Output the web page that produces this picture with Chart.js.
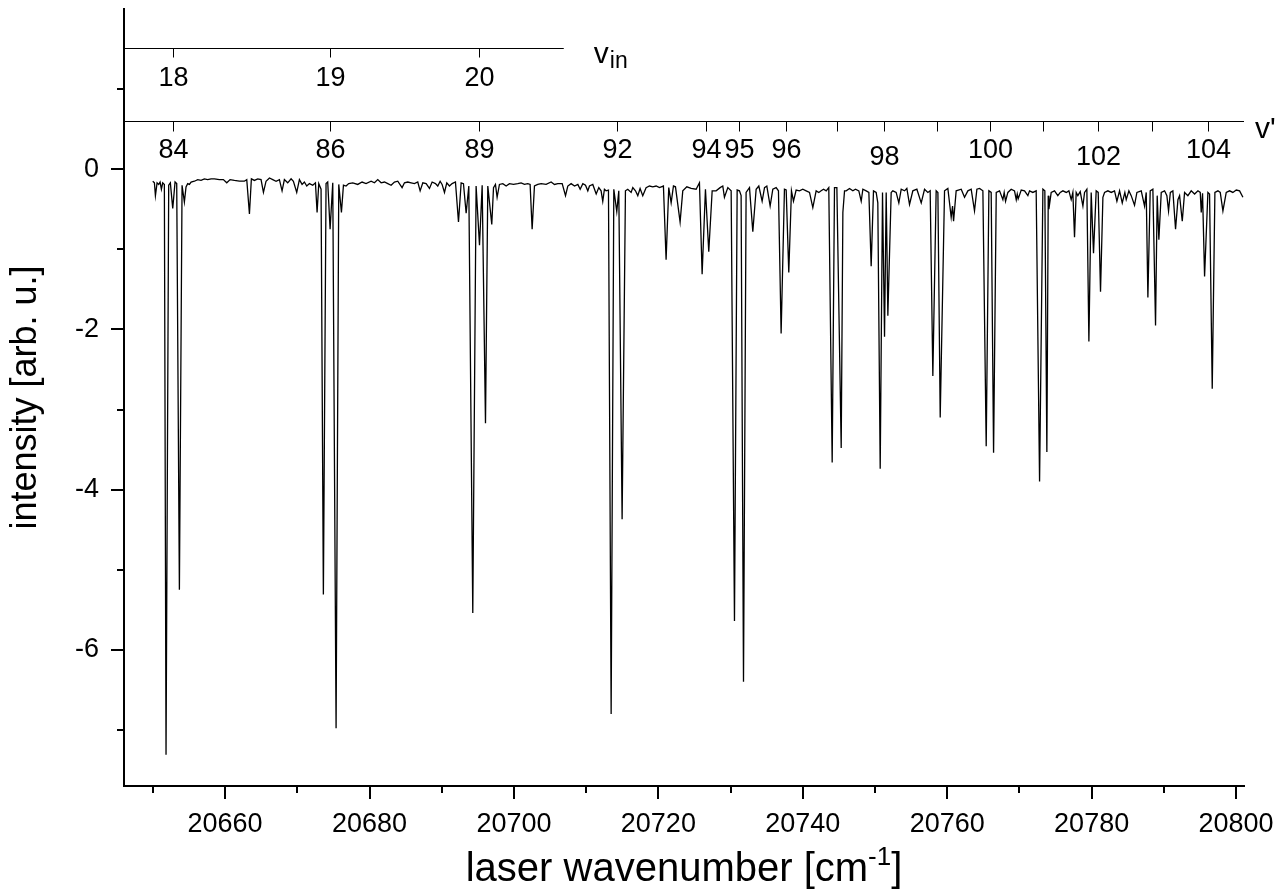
<!DOCTYPE html>
<html>
<head>
<meta charset="utf-8">
<script src="https://cdn.jsdelivr.net/npm/chart.js@4.4.1/dist/chart.umd.min.js"></script>
<style>
  html, body { margin: 0; padding: 0; background: #fff; }
</style>
</head>
<body>
<canvas id="spectrumChart" width="1286" height="890"></canvas>
<script>
// --- data: [laser wavenumber (cm^-1), intensity (arb. u.)] ---
const spectrum = [
  [20649.98,-0.15],[20650.21,-0.17],[20650.35,-0.33],[20650.58,-0.17],[20650.81,-0.19],[20651.00,-0.16],[20651.18,-0.25],[20651.36,-0.17],[20651.59,-0.19],[20651.82,-7.31],
  [20652.19,-0.20],[20652.42,-0.17],[20652.75,-0.49],[20653.07,-0.16],[20653.30,-0.18],[20653.67,-5.25],[20654.04,-0.20],[20654.36,-0.41],[20654.59,-0.22],[20654.82,-0.18],
  [20655.06,-0.19],[20655.29,-0.16],[20655.75,-0.15],[20656.21,-0.13],[20656.67,-0.14],[20657.13,-0.12],[20657.59,-0.13],[20658.06,-0.12],[20658.52,-0.12],[20659.21,-0.13],
  [20659.76,-0.13],[20660.23,-0.17],[20660.69,-0.13],[20661.29,-0.14],[20661.98,-0.15],[20662.67,-0.15],[20663.00,-0.13],[20663.37,-0.56],[20663.64,-0.12],[20664.06,-0.14],
  [20664.52,-0.12],[20664.98,-0.13],[20665.31,-0.29],[20665.67,-0.15],[20666.14,-0.11],[20666.60,-0.13],[20667.06,-0.15],[20667.52,-0.13],[20667.89,-0.27],[20668.21,-0.13],
  [20668.67,-0.17],[20669.14,-0.12],[20669.46,-0.15],[20669.92,-0.29],[20670.29,-0.13],[20670.66,-0.19],[20670.98,-0.16],[20671.31,-0.21],[20671.68,-0.18],[20672.14,-0.20],
  [20672.51,-0.17],[20672.74,-0.54],[20672.97,-0.18],[20673.29,-0.25],[20673.61,-5.31],[20673.98,-0.18],[20674.21,-0.16],[20674.54,-0.75],[20674.91,-0.17],[20675.37,-6.98],
  [20675.74,-0.19],[20676.11,-0.54],[20676.39,-0.20],[20676.75,-0.21],[20677.12,-0.18],[20677.68,-0.17],[20678.37,-0.19],[20678.97,-0.16],[20679.52,-0.18],[20680.22,-0.15],
  [20680.68,-0.17],[20681.14,-0.13],[20681.61,-0.17],[20682.07,-0.16],[20682.53,-0.18],[20682.99,-0.20],[20683.45,-0.16],[20683.91,-0.15],[20684.51,-0.23],[20684.84,-0.17],
  [20685.30,-0.16],[20685.76,-0.17],[20686.22,-0.18],[20686.68,-0.16],[20687.01,-0.27],[20687.38,-0.17],[20687.84,-0.18],[20688.30,-0.24],[20688.67,-0.16],[20689.13,-0.18],
  [20689.45,-0.21],[20689.78,-0.15],[20690.05,-0.19],[20690.38,-0.29],[20690.70,-0.17],[20691.07,-0.21],[20691.44,-0.18],[20691.90,-0.16],[20692.32,-0.66],[20692.69,-0.17],
  [20693.01,-0.18],[20693.38,-0.55],[20693.75,-0.21],[20694.30,-5.54],[20694.76,-0.21],[20695.23,-0.95],[20695.60,-0.20],[20696.06,-3.17],[20696.38,-0.21],[20696.93,-0.69],
  [20697.17,-0.23],[20697.44,-0.19],[20697.67,-0.35],[20697.99,-0.19],[20698.46,-0.18],[20698.92,-0.21],[20699.38,-0.18],[20699.93,-0.19],[20700.53,-0.18],[20700.99,-0.17],
  [20701.46,-0.19],[20701.92,-0.18],[20702.24,-0.19],[20702.52,-0.75],[20702.84,-0.21],[20703.30,-0.19],[20703.77,-0.18],[20704.46,-0.19],[20705.15,-0.16],[20705.61,-0.19],
  [20706.08,-0.18],[20706.68,-0.18],[20707.14,-0.33],[20707.46,-0.21],[20707.92,-0.18],[20708.39,-0.21],[20708.85,-0.19],[20709.17,-0.25],[20709.54,-0.18],[20709.91,-0.20],
  [20710.23,-0.27],[20710.46,-0.21],[20710.92,-0.19],[20711.39,-0.31],[20711.75,-0.23],[20712.07,-0.27],[20712.30,-0.40],[20712.53,-0.25],[20712.76,-0.27],[20713.09,-0.26],
  [20713.46,-6.80],[20713.83,-0.25],[20714.24,-0.53],[20714.52,-0.27],[20714.98,-4.37],[20715.44,-0.27],[20715.76,-0.25],[20716.23,-0.29],[20716.46,-0.23],[20716.83,-0.27],
  [20717.15,-0.33],[20717.47,-0.24],[20717.84,-0.33],[20718.30,-0.23],[20718.77,-0.21],[20719.23,-0.22],[20719.69,-0.21],[20720.15,-0.23],[20720.70,-0.21],[20721.07,-1.13],
  [20721.44,-0.23],[20721.77,-0.42],[20722.09,-0.21],[20722.37,-0.22],[20723.01,-0.66],[20723.38,-0.27],[20723.94,-0.22],[20724.54,-0.24],[20725.23,-0.25],[20725.69,-0.17],
  [20726.06,-1.31],[20726.52,-0.25],[20726.98,-1.03],[20727.45,-0.27],[20728.00,-0.27],[20728.55,-0.23],[20728.92,-0.21],[20729.15,-0.35],[20729.62,-0.23],[20730.08,-0.27],
  [20730.54,-5.64],[20730.91,-0.26],[20731.23,-0.27],[20731.46,-0.33],[20731.79,-6.40],[20732.15,-0.29],[20732.62,-0.23],[20733.08,-0.78],[20733.54,-0.25],[20733.91,-0.21],
  [20734.37,-0.40],[20734.70,-0.23],[20735.02,-0.21],[20735.48,-0.46],[20735.85,-0.25],[20736.31,-0.23],[20736.63,-0.27],[20737.00,-2.05],[20737.46,-0.25],[20737.70,-0.26],
  [20738.06,-1.29],[20738.43,-0.27],[20738.71,-0.40],[20739.08,-0.26],[20739.54,-0.27],[20740.00,-0.25],[20740.47,-0.27],[20740.93,-0.29],[20741.39,-0.48],[20741.85,-0.27],
  [20742.22,-0.29],[20742.54,-0.27],[20742.87,-0.25],[20743.24,-0.27],[20743.60,-0.23],[20744.07,-3.66],[20744.39,-0.23],[20744.72,-0.23],[20745.32,-3.48],[20745.55,-0.54],
  [20745.78,-0.27],[20746.01,-0.27],[20746.47,-0.24],[20746.93,-0.27],[20747.30,-0.25],[20747.76,-0.27],[20748.09,-0.40],[20748.32,-0.25],[20748.78,-0.27],[20749.15,-0.29],
  [20749.47,-1.21],[20749.79,-0.27],[20750.16,-0.29],[20750.39,-0.42],[20750.72,-3.74],[20751.04,-0.29],[20751.32,-2.09],[20751.55,-0.29],[20751.78,-1.83],[20752.24,-0.29],
  [20752.47,-0.27],[20752.93,-0.29],[20753.30,-0.42],[20753.63,-0.25],[20754.09,-0.27],[20754.41,-0.24],[20754.78,-0.44],[20755.24,-0.27],[20755.80,-0.25],[20756.40,-0.42],
  [20756.86,-0.25],[20757.32,-0.29],[20757.64,-0.27],[20758.01,-2.58],[20758.47,-0.27],[20758.71,-0.29],[20759.03,-3.10],[20759.63,-0.27],[20760.09,-0.24],[20760.55,-0.60],
  [20760.74,-0.46],[20760.88,-0.65],[20761.24,-0.27],[20761.94,-0.25],[20762.40,-0.35],[20762.86,-0.27],[20763.32,-0.25],[20763.78,-0.52],[20764.11,-0.25],[20764.48,-0.24],
  [20764.94,-0.27],[20765.40,-3.46],[20765.77,-0.27],[20766.09,-0.29],[20766.42,-3.54],[20766.79,-0.29],[20767.25,-0.27],[20767.71,-0.38],[20767.89,-0.29],[20768.08,-0.40],
  [20768.40,-0.29],[20768.86,-0.25],[20769.32,-0.27],[20769.56,-0.38],[20769.70,-0.31],[20769.83,-0.37],[20770.25,-0.26],[20770.71,-0.27],[20771.17,-0.33],[20771.40,-0.27],
  [20771.86,-0.29],[20772.32,-0.27],[20772.79,-3.90],[20773.25,-0.25],[20773.52,-0.27],[20773.80,-3.53],[20773.99,-0.33],[20774.08,-0.50],[20774.40,-0.29],[20774.86,-0.27],
  [20775.32,-0.33],[20775.65,-0.29],[20776.02,-0.27],[20776.48,-0.29],[20776.85,-0.27],[20777.17,-0.38],[20777.40,-0.29],[20777.63,-0.85],[20777.86,-0.29],[20778.09,-0.33],
  [20778.42,-0.28],[20778.79,-0.46],[20779.02,-0.29],[20779.34,-0.25],[20779.62,-2.15],[20779.94,-0.29],[20780.26,-1.05],[20780.63,-0.27],[20780.91,-0.29],[20781.23,-1.53],
  [20781.56,-0.35],[20781.79,-0.29],[20782.25,-0.27],[20782.71,-0.29],[20783.17,-0.27],[20783.50,-0.40],[20783.87,-0.27],[20784.24,-0.42],[20784.60,-0.29],[20784.79,-0.38],
  [20785.16,-0.27],[20785.48,-0.33],[20785.94,-0.45],[20786.27,-0.29],[20786.87,-0.27],[20787.33,-0.46],[20787.56,-0.29],[20787.79,-1.60],[20788.11,-0.27],[20788.48,-0.25],
  [20788.85,-1.95],[20789.08,-0.33],[20789.31,-0.88],[20789.64,-0.29],[20790.10,-0.27],[20790.42,-0.33],[20790.65,-0.52],[20790.90,-0.29],[20791.25,-0.27],[20791.62,-0.75],
  [20791.95,-0.38],[20792.18,-0.33],[20792.55,-0.65],[20792.87,-0.29],[20793.33,-0.33],[20793.79,-0.27],[20794.26,-0.31],[20794.72,-0.27],[20795.04,-0.29],[20795.18,-0.54],
  [20795.36,-0.30],[20795.64,-1.34],[20796.10,-0.29],[20796.33,-0.31],[20796.70,-2.74],[20797.07,-0.29],[20797.49,-0.27],[20797.81,-0.29],[20798.18,-0.52],[20798.64,-0.29],
  [20799.10,-0.27],[20799.56,-0.29],[20800.03,-0.26],[20800.49,-0.27],[20800.95,-0.35]
];

// axis ticks
const xMajorTicks = [20660, 20680, 20700, 20720, 20740, 20760, 20780, 20800];
const xMinorTicks = [20650, 20670, 20690, 20710, 20730, 20750, 20770, 20790];
const yMajorTicks = [-6, -4, -2, 0];
const yMinorTicks = [-7, -5, -3, -1, 1];

// assignment scales drawn inside the plot (positions in wavenumbers)
const vInTicks = [20652.78, 20674.54, 20695.22];
const vInLabels = ['18', '19', '20'];
const vInLevel = 1.51;       // intensity units
const vInEnd = 20706.9;
const vPrimeTicks = [20652.78, 20674.54, 20695.22, 20714.27, 20726.66, 20731.22, 20737.65, 20744.77,
                     20751.30, 20758.53, 20765.86, 20773.25, 20780.84, 20788.35, 20796.16];
const vPrimeLabels = ['84', '86', '89', '92', '94', '95', '96', '', '98', '', '100', '', '102', '', '104'];
const vPrimeLevel = 0.6;

const FONT = '"Liberation Sans", Arial, sans-serif';

// --- extra drawing: minor/major tick marks, v scales, axis titles ---
const decorPlugin = {
    id: 'decor',
    afterDraw(chart) {
        const { ctx, chartArea: area, scales: { x, y } } = chart;
        ctx.save();
        ctx.strokeStyle = '#000';
        ctx.fillStyle = '#000';

        // tick marks on x and y axes (outward)
        ctx.lineWidth = 2;
        const mark = (x1, y1, x2, y2) => { ctx.beginPath(); ctx.moveTo(x1, y1); ctx.lineTo(x2, y2); ctx.stroke(); };
        xMajorTicks.forEach(v => { const p = Math.round(x.getPixelForValue(v)); mark(p, area.bottom, p, area.bottom + 13); });
        xMinorTicks.forEach(v => { const p = Math.round(x.getPixelForValue(v)); mark(p, area.bottom, p, area.bottom + 7); });
        yMajorTicks.forEach(v => { const p = Math.round(y.getPixelForValue(v)); mark(area.left, p, area.left - 13, p); });
        yMinorTicks.forEach(v => { const p = Math.round(y.getPixelForValue(v)); mark(area.left, p, area.left - 7, p); });

        // v_in scale
        ctx.lineWidth = 1;
        const yIn = Math.round(y.getPixelForValue(vInLevel)) + 0.5;
        mark(area.left, yIn, x.getPixelForValue(vInEnd), yIn);
        ctx.font = '27px ' + FONT;
        ctx.textAlign = 'center';
        ctx.textBaseline = 'alphabetic';
        vInTicks.forEach((v, i) => {
            const p = Math.round(x.getPixelForValue(v)) + 0.5;
            mark(p, yIn, p, yIn + 9);
            ctx.fillText(vInLabels[i], p, yIn + 37);
        });
        ctx.textAlign = 'left';
        const vx = x.getPixelForValue(vInEnd) + 30;
        ctx.font = '30px ' + FONT;
        ctx.fillText('v', vx, yIn + 14);
        const vw = ctx.measureText('v').width;
        ctx.font = '23px ' + FONT;
        ctx.fillText('in', vx + vw + 1, yIn + 19);

        // v' scale
        const yPr = Math.round(y.getPixelForValue(vPrimeLevel)) + 0.5;
        mark(area.left, yPr, area.right, yPr);
        ctx.font = '27px ' + FONT;
        ctx.textAlign = 'center';
        vPrimeTicks.forEach((v, i) => {
            const p = Math.round(x.getPixelForValue(v)) + 0.5;
            mark(p, yPr, p, yPr + 10);
            const lab = vPrimeLabels[i];
            if (lab) {
                const drop = (lab === '98' || lab === '102') ? 7 : 0;
                ctx.fillText(lab, p, yPr + 36 + drop);
            }
        });
        ctx.textAlign = 'left';
        ctx.font = '30px ' + FONT;
        ctx.fillText("v'", area.right + 11, yPr + 16);

        // x axis title with superscript
        const t1 = 'laser wavenumber [cm', sup = '-1', t2 = ']';
        ctx.font = '40px ' + FONT;
        const w1 = ctx.measureText(t1).width, w3 = ctx.measureText(t2).width;
        ctx.font = '26px ' + FONT;
        const w2 = ctx.measureText(sup).width;
        const tx = (area.left + area.right) / 2 - (w1 + w2 + w3) / 2;
        const ty = 881;
        ctx.font = '40px ' + FONT;
        ctx.fillText(t1, tx, ty);
        ctx.font = '26px ' + FONT;
        ctx.fillText(sup, tx + w1, ty - 16);
        ctx.font = '40px ' + FONT;
        ctx.fillText(t2, tx + w1 + w2, ty);

        // y axis title
        ctx.font = '36px ' + FONT;
        ctx.translate(36, (area.top + area.bottom) / 2);
        ctx.rotate(-Math.PI / 2);
        ctx.textAlign = 'center';
        ctx.fillText('intensity [arb. u.]', 0, 0);
        ctx.restore();
    }
};

// remove Chart.js' label overhang padding so the plot box matches the picture
const noOverhang = s => { s.paddingTop = 0; s.paddingBottom = 0; s.paddingLeft = 0; s.paddingRight = 0; };

const ctxSpec = document.getElementById('spectrumChart').getContext('2d');
new Chart(ctxSpec, {
    type: 'line',
    data: {
        datasets: [{
            data: spectrum.map(p => ({ x: p[0], y: p[1] })),
            borderColor: '#000',
            borderWidth: 1.3,
            pointRadius: 0,
            tension: 0,
            fill: false
        }]
    },
    options: {
        responsive: false,
        animation: false,
        devicePixelRatio: 1,
        layout: { padding: { top: 9, right: 42, left: 0, bottom: 0 } },
        plugins: { legend: { display: false }, tooltip: { enabled: false } },
        scales: {
            x: {
                type: 'linear',
                min: 20646,
                max: 20801.1,
                afterFit: s => { s.height = 104; noOverhang(s); },
                afterBuildTicks: s => { s.ticks = xMajorTicks.map(v => ({ value: v })); },
                grid: { drawOnChartArea: false, drawTicks: false },
                border: { display: true, color: '#000', width: 2 },
                ticks: { color: '#000', padding: 22, maxRotation: 0, autoSkip: false,
                         font: { family: FONT, size: 27 }, callback: v => String(v) }
            },
            y: {
                type: 'linear',
                min: -7.7,
                max: 2.0,
                afterFit: s => { s.width = 124; noOverhang(s); },
                afterBuildTicks: s => { s.ticks = yMajorTicks.map(v => ({ value: v })); },
                grid: { drawOnChartArea: false, drawTicks: false },
                border: { display: true, color: '#000', width: 2 },
                ticks: { color: '#000', padding: 25, autoSkip: false,
                         font: { family: FONT, size: 27 }, callback: v => String(v) }
            }
        }
    },
    plugins: [decorPlugin]
});
</script>
</body>
</html>
